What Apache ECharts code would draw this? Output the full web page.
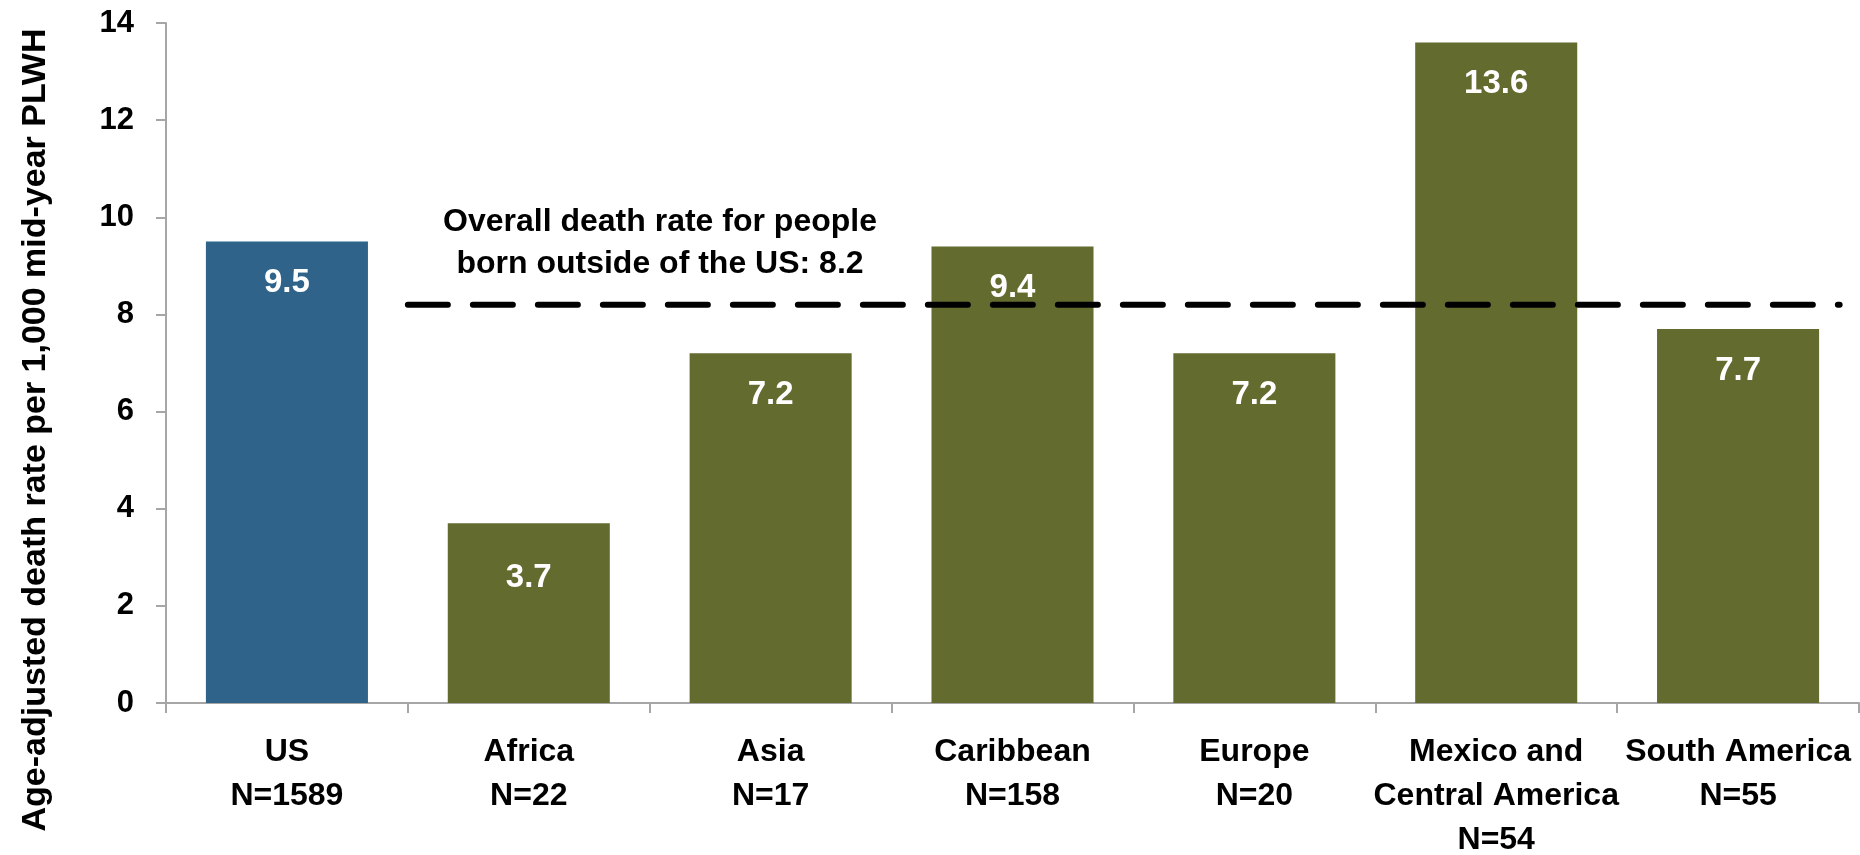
<!DOCTYPE html>
<html>
<head>
<meta charset="utf-8">
<script src="https://cdn.jsdelivr.net/npm/echarts@6/dist/echarts.min.js"></script>
<style>
  html, body { margin: 0; padding: 0; background: #ffffff; }
  #chart { width: 1860px; height: 855px; }
</style>
</head>
<body>
<div id="chart"></div>
<script>
// Region of birth, sample size and age-adjusted death rate per 1,000 PLWH
const regions = ['US', 'Africa', 'Asia', 'Caribbean', 'Europe', 'Mexico and\nCentral America', 'South America'];
const sampleSizes = [1589, 22, 17, 158, 20, 54, 55];
const deathRates = [9.5, 3.7, 7.2, 9.4, 7.2, 13.6, 7.7];
const yTicks = [0, 2, 4, 6, 8, 10, 12, 14];

// Overall rate for people born outside of the US, drawn across the non-US regions
const overallRate = 8.2;
const overallSpan = [1, 6.92];
const overallText = 'Overall death rate for people\nborn outside of the US: ' + overallRate;

const FONT = '"Liberation Sans", Arial, sans-serif';
const US_COLOR = '#2F6389';
const REGION_COLOR = '#636B2F';

const categoryLabels = regions.map((r, i) => r + '\nN=' + sampleSizes[i]);

const barData = deathRates.map((v, i) => ({
  value: v,
  itemStyle: { color: i === 0 ? US_COLOR : REGION_COLOR },
  label: { distance: regions[i] === 'Africa' ? 38 : 25 }
}));

const chart = echarts.init(document.getElementById('chart'), null, { renderer: 'canvas' });

chart.setOption({
  animation: false,
  backgroundColor: '#ffffff',
  grid: { left: 166, right: 1, top: 23, bottom: 152, containLabel: false, outerBoundsMode: 'none' },
  xAxis: [
    {
      type: 'category',
      data: categoryLabels,
      axisLine: { show: true, lineStyle: { color: '#a6a6a6', width: 2 } },
      axisTick: { show: true, inside: false, length: 10, alignWithLabel: false, lineStyle: { color: '#a6a6a6', width: 2 } },
      axisLabel: {
        color: '#000000',
        fontFamily: FONT,
        fontWeight: 'bold',
        fontSize: 32,
        lineHeight: 44,
        margin: 27,
        interval: 0
      }
    },
    {
      type: 'value',
      min: 0,
      max: regions.length,
      show: false
    }
  ],
  yAxis: {
    type: 'value',
    min: yTicks[0],
    max: yTicks[yTicks.length - 1],
    interval: yTicks[1] - yTicks[0],
    splitLine: { show: false },
    axisLine: { show: true, lineStyle: { color: '#a6a6a6', width: 2 } },
    axisTick: { show: true, inside: false, length: 10, lineStyle: { color: '#a6a6a6', width: 2 } },
    axisLabel: {
      color: '#000000',
      fontFamily: FONT,
      fontWeight: 'bold',
      fontSize: 31,
      margin: 32
    }
  },
  series: [
    {
      type: 'bar',
      xAxisIndex: 0,
      data: barData,
      barWidth: '67%',
      label: {
        show: true,
        position: 'insideTop',
        color: '#ffffff',
        fontFamily: FONT,
        fontWeight: 'bold',
        fontSize: 33,
        formatter: p => p.value.toFixed(1)
      },
      z: 2
    },
    {
      type: 'line',
      xAxisIndex: 1,
      data: [[overallSpan[0], overallRate], [overallSpan[1], overallRate]],
      symbol: 'none',
      lineStyle: { color: '#000000', width: 6, type: [40, 25], cap: 'round' },
      z: 3
    }
  ],
  graphic: [
    {
      type: 'text',
      x: 660,
      y: 243,
      style: {
        text: overallText,
        font: 'bold 32px ' + FONT,
        fill: '#000000',
        align: 'center',
        verticalAlign: 'middle',
        lineHeight: 42
      }
    },
    {
      type: 'text',
      rotation: Math.PI / 2,
      x: 36,
      y: 430,
      style: {
        text: 'Age-adjusted death rate per 1,000 mid-year PLWH',
        font: 'bold 34px ' + FONT,
        fill: '#000000',
        align: 'center',
        verticalAlign: 'middle'
      }
    }
  ]
});
</script>
</body>
</html>
